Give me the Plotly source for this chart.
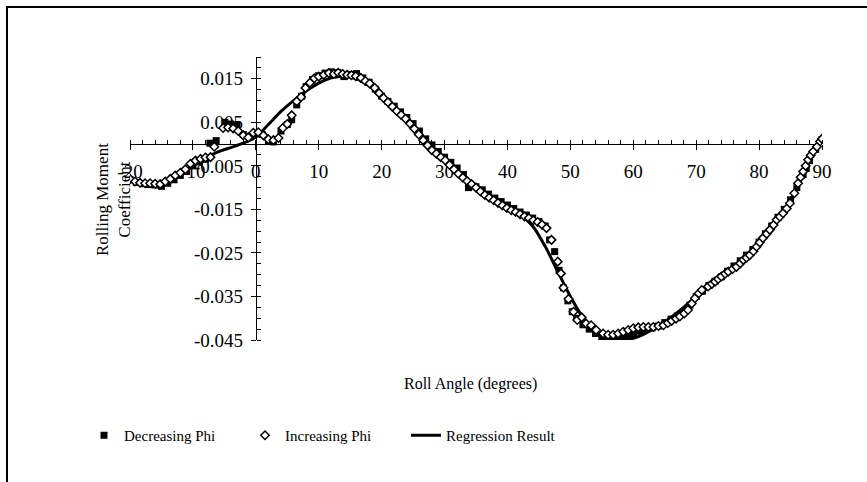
import plotly.graph_objects as go

# ---------------- data ----------------
inc_x = [-20, -19.2, -18.4, -17.6, -16.8, -16, -15.2, -14.4, -13.6, -12.8, -12, -11.2, -10.4, -9.6, -8.8, -8, -7.2,
         -6.6, -5.2, -4.4, -3.6, -2.8, -2, -1.2, -0.4, 0.4, 1.2, 2, 2.8, 3.6, 4.3, 5, 5.7, 6.5, 7.2, 7.9, 8.6, 9.3,
         10, 10.8, 11.6, 12.4, 13.1, 13.8, 14.5, 15.2, 15.9, 16.7, 17.4, 18.1, 18.9, 19.6, 20.3, 21, 21.7, 22.4,
         23.1, 23.8, 24.5, 25.2, 25.9, 26.6, 27.3, 28, 28.7, 29.4, 30.1, 30.8, 31.5, 32.2, 32.9, 33.6, 34.3, 35,
         35.7, 36.4, 37.1, 37.8, 38.5, 39.2, 39.9, 40.6, 41.3, 42, 42.7, 43.4, 44.1, 44.8, 45.5, 46.2, 47, 48,
         48.5, 48.9, 49.7, 50.5, 51.1, 51.8, 52.5, 53.3, 54.1, 55.2, 56, 56.8, 57.6, 58.4, 59.2, 60, 60.8, 61.6,
         62.4, 63.2, 64, 64.8, 65.5, 66.1, 66.8, 67.4, 68.1, 68.7, 69.3, 69.8, 70.4, 70.9, 71.9, 72.5, 73, 73.5,
         74, 74.6, 75.1, 75.8, 76.4, 77, 77.5, 78, 78.5, 79.1, 79.6, 80.1, 80.6, 81.2, 81.7, 82.3, 82.8, 83.3,
         83.8, 84.4, 84.9, 85.6, 86.2, 86.6, 87, 87.4, 87.8, 88.2, 88.6, 89.2, 89.7, 90]
inc_y = [-0.0080, -0.0086, -0.0089, -0.0090, -0.0090, -0.0091, -0.0092, -0.0086, -0.0080, -0.0072, -0.0066,
         -0.0058, -0.0045, -0.0038, -0.0034, -0.0031, -0.0030, -0.0006, 0.0037, 0.0038, 0.0036, 0.0030, 0.0020,
         0.0015, 0.0026, 0.0027, 0.0020, 0.0011, 0.0009, 0.0014, 0.0037, 0.0046, 0.0066, 0.0098, 0.0108, 0.0129,
         0.0141, 0.0151, 0.0155, 0.0159, 0.0163, 0.0161, 0.0164, 0.0161, 0.0159, 0.0158, 0.0156, 0.0152, 0.0145,
         0.0139, 0.0129, 0.0117, 0.0106, 0.0096, 0.0086, 0.0076, 0.0067, 0.0058, 0.0047, 0.0035, 0.0022, 0.0009,
         -0.0003, -0.0014, -0.0022, -0.0030, -0.0037, -0.0048, -0.0058, -0.0068, -0.0077, -0.0085, -0.0092,
         -0.0100, -0.0109, -0.0117, -0.0123, -0.0129, -0.0135, -0.0141, -0.0147, -0.0152, -0.0156, -0.0161,
         -0.0166, -0.0170, -0.0175, -0.0179, -0.0185, -0.0193, -0.0220, -0.0270, -0.0297, -0.0330, -0.0356,
         -0.0385, -0.0404, -0.0398, -0.0412, -0.0416, -0.0427, -0.0435, -0.0438, -0.0438, -0.0435, -0.0431,
         -0.0427, -0.0423, -0.0421, -0.0420, -0.0420, -0.0420, -0.0418, -0.0416, -0.0411, -0.0406, -0.0401,
         -0.0396, -0.0389, -0.0381, -0.0366, -0.0354, -0.0343, -0.0335, -0.0327, -0.0321, -0.0316, -0.0310,
         -0.0304, -0.0298, -0.0293, -0.0287, -0.0282, -0.0274, -0.0266, -0.0261, -0.0255, -0.0246, -0.0236,
         -0.0226, -0.0216, -0.0206, -0.0197, -0.0186, -0.0174, -0.0167, -0.0159, -0.0148, -0.0136, -0.0113,
         -0.0090, -0.0076, -0.0063, -0.0050, -0.0036, -0.0026, -0.0017, -0.0006, 0.0006, 0.0012]

dec_x = [-20, -19, -18, -17, -16, -15, -14, -13, -12, -11, -10, -9, -8, -7.3, -6.3, -4.9, -4, -3, -2, -1, 0, 1,
         2, 2.8, 4, 5, 5.7, 6.5, 7.3, 8, 9, 10, 11, 12, 13, 14, 15, 16, 17, 18, 19, 20, 21, 22, 23, 24, 25, 26,
         27, 28, 29, 30, 31, 32, 33, 33.8, 35, 36, 37, 38, 39, 40, 41, 42, 43, 44, 45, 46, 46.7, 47.5, 48.2,
         48.9, 49.6, 50.3, 51, 52, 53, 54, 55, 56, 57, 58, 59, 60, 61, 62, 63, 64, 65, 66, 67, 68, 69, 70, 71,
         72, 73, 74, 75, 76, 77, 78, 79, 80, 81, 82, 83, 84, 85, 86, 87, 87.5, 88, 89, 90]
dec_y = [-0.0082, -0.0088, -0.0091, -0.0093, -0.0094, -0.0097, -0.0090, -0.0082, -0.0072, -0.0063, -0.0050,
         -0.0041, -0.0035, 0.0002, 0.0008, 0.0050, 0.0046, 0.0044, 0.0022, 0.0018, 0.0025, 0.0022, 0.0008,
         0.0005, 0.0030, 0.0045, 0.0056, 0.0090, 0.0110, 0.0132, 0.0148, 0.0157, 0.0163, 0.0166, 0.0164,
         0.0155, 0.0160, 0.0162, 0.0152, 0.0142, 0.0126, 0.0110, 0.0098, 0.0087, 0.0074, 0.0061, 0.0047,
         0.0030, 0.0012, -0.0002, -0.0017, -0.0030, -0.0042, -0.0055, -0.0070, -0.0100, -0.0098, -0.0105,
         -0.0115, -0.0124, -0.0132, -0.0140, -0.0148, -0.0156, -0.0163, -0.0170, -0.0178, -0.0188, -0.0220,
         -0.0247, -0.0290, -0.0330, -0.0360, -0.0385, -0.0400, -0.0415, -0.0425, -0.0435, -0.0442, -0.0445,
         -0.0446, -0.0445, -0.0442, -0.0436, -0.0430, -0.0425, -0.0422, -0.0418, -0.0410, -0.0402, -0.0395,
         -0.0388, -0.0370, -0.0350, -0.0338, -0.0325, -0.0315, -0.0305, -0.0292, -0.0280, -0.0268, -0.0255,
         -0.0242, -0.0225, -0.0206, -0.0188, -0.0168, -0.0150, -0.0128, -0.0100, -0.0070, -0.0056, -0.0038,
         -0.0012, 0.0010]

reg_x = [-20, -18, -16, -14, -12, -10, -8, -6, -4, -2, 0, 2, 4, 6, 8, 10, 12, 14, 16, 18, 20, 22, 24, 26, 28,
         30, 32, 34, 36, 38, 40, 42, 44, 46, 48, 50, 52, 54, 56, 58, 60, 62, 64, 66, 68, 70, 72, 74, 76, 78, 80,
         82, 84, 86, 88, 90]
reg_y = [-0.0078, -0.0091, -0.0093, -0.0080, -0.0066, -0.0050, -0.0032, -0.0018, -0.0008, 0.0002, 0.0016,
         0.0045, 0.0075, 0.0100, 0.0122, 0.0140, 0.0152, 0.0156, 0.0150, 0.0134, 0.0110, 0.0083, 0.0055,
         0.0024, -0.0005, -0.0035, -0.0062, -0.0087, -0.0110, -0.0130, -0.0146, -0.0162, -0.0188, -0.0235,
         -0.0293, -0.0350, -0.0398, -0.0432, -0.0447, -0.0450, -0.0446, -0.0434, -0.0418, -0.0398, -0.0375,
         -0.0350, -0.0328, -0.0306, -0.0283, -0.0258, -0.0228, -0.0192, -0.0152, -0.0100, -0.0040, 0.0010]

x_ticks = [-20, -10, 0, 10, 20, 30, 40, 50, 60, 70, 80, 90]
x_ticktext = ["-20", "-10", "0", "10", "20", "30", "40", "50", "60", "70", "80", "90"]
y_ticks = [-0.045, -0.035, -0.025, -0.015, -0.005, 0.005, 0.015]
y_ticktext = ["-0.045", "-0.035", "-0.025", "-0.015", "-0.005", "0.005", "0.015"]

X_RANGE = [-20, 90]
Y_RANGE = [-0.045, 0.02]

FONT = "Liberation Serif"

fig = go.Figure()
fig.add_trace(go.Scatter(x=reg_x, y=reg_y, mode="lines", name="Regression Result",
                         line=dict(color="black", width=3, shape="spline", smoothing=0.8),
                         legendrank=3))
fig.add_trace(go.Scatter(x=dec_x, y=dec_y, mode="markers", name="Decreasing Phi",
                         marker=dict(symbol="square", size=7, color="black"),
                         legendrank=1))
fig.add_trace(go.Scatter(x=inc_x, y=inc_y, mode="markers", name="Increasing Phi",
                         marker=dict(symbol="diamond", size=6.5, color="white",
                                     line=dict(color="black", width=1.5)),
                         legendrank=2))

x_cross = (0 - Y_RANGE[0]) / (Y_RANGE[1] - Y_RANGE[0])
y_cross = (0 - X_RANGE[0]) / (X_RANGE[1] - X_RANGE[0])

fig.update_layout(
    width=867, height=482,
    margin=dict(l=130, r=45, t=57, b=142),
    paper_bgcolor="white", plot_bgcolor="white",
    font=dict(family=FONT, size=16, color="black"),
    showlegend=True,
    legend=dict(orientation="h", xref="paper", yref="paper",
                x=(84 - 130) / 692, y=(340 - 419) / 283, xanchor="left", yanchor="top",
                font=dict(family=FONT, size=15, color="black"),
                entrywidth=116, entrywidthmode="pixels", bgcolor="rgba(0,0,0,0)",
                itemsizing="trace"),
    xaxis=dict(range=X_RANGE, anchor="free", position=x_cross, showline=True, linecolor="black",
               linewidth=1, showgrid=False, zeroline=False, tickmode="array", tickvals=x_ticks,
               ticktext=x_ticktext, ticks="outside", ticklen=5, tickcolor="black",
               tickfont=dict(family=FONT, size=19), layer="below traces",
               ticklabeloverflow="allow", ticklabelstandoff=5,
               minor=dict(dtick=2, tick0=0, ticks="inside", ticklen=4, tickcolor="black", showgrid=False)),
    yaxis=dict(range=Y_RANGE, anchor="free", position=y_cross, showline=True, linecolor="black",
               linewidth=1, showgrid=False, zeroline=False, tickmode="array", tickvals=y_ticks,
               ticktext=y_ticktext, ticks="outside", ticklen=5, tickcolor="black",
               tickfont=dict(family=FONT, size=19), layer="below traces",
               ticklabeloverflow="allow", ticklabelstandoff=4,
               minor=dict(dtick=0.0025, tick0=-0.045, ticks="inside", ticklen=4, tickcolor="black",
                          showgrid=False)),
)

fig.add_annotation(text="Roll Angle (degrees)", xref="paper", yref="paper",
                   x=(470 - 130) / 692, y=(340 - 384) / 283, showarrow=False,
                   font=dict(family=FONT, size=16), xanchor="center", yanchor="middle")
fig.add_annotation(text="Rolling Moment<br>Coefficient", xref="paper", yref="paper",
                   x=(113 - 130) / 692, y=(340 - 200) / 283, showarrow=False, textangle=-90,
                   font=dict(family=FONT, size=17), xanchor="center", yanchor="middle")

# chart border
fig.add_shape(type="rect", xref="paper", yref="paper",
              x0=(7 - 130) / 692, y0=(340 - 520) / 283, x1=(900 - 130) / 692, y1=(340 - 7) / 283,
              line=dict(color="black", width=2), fillcolor="rgba(0,0,0,0)", layer="below")

fig.write_html("out.html")
